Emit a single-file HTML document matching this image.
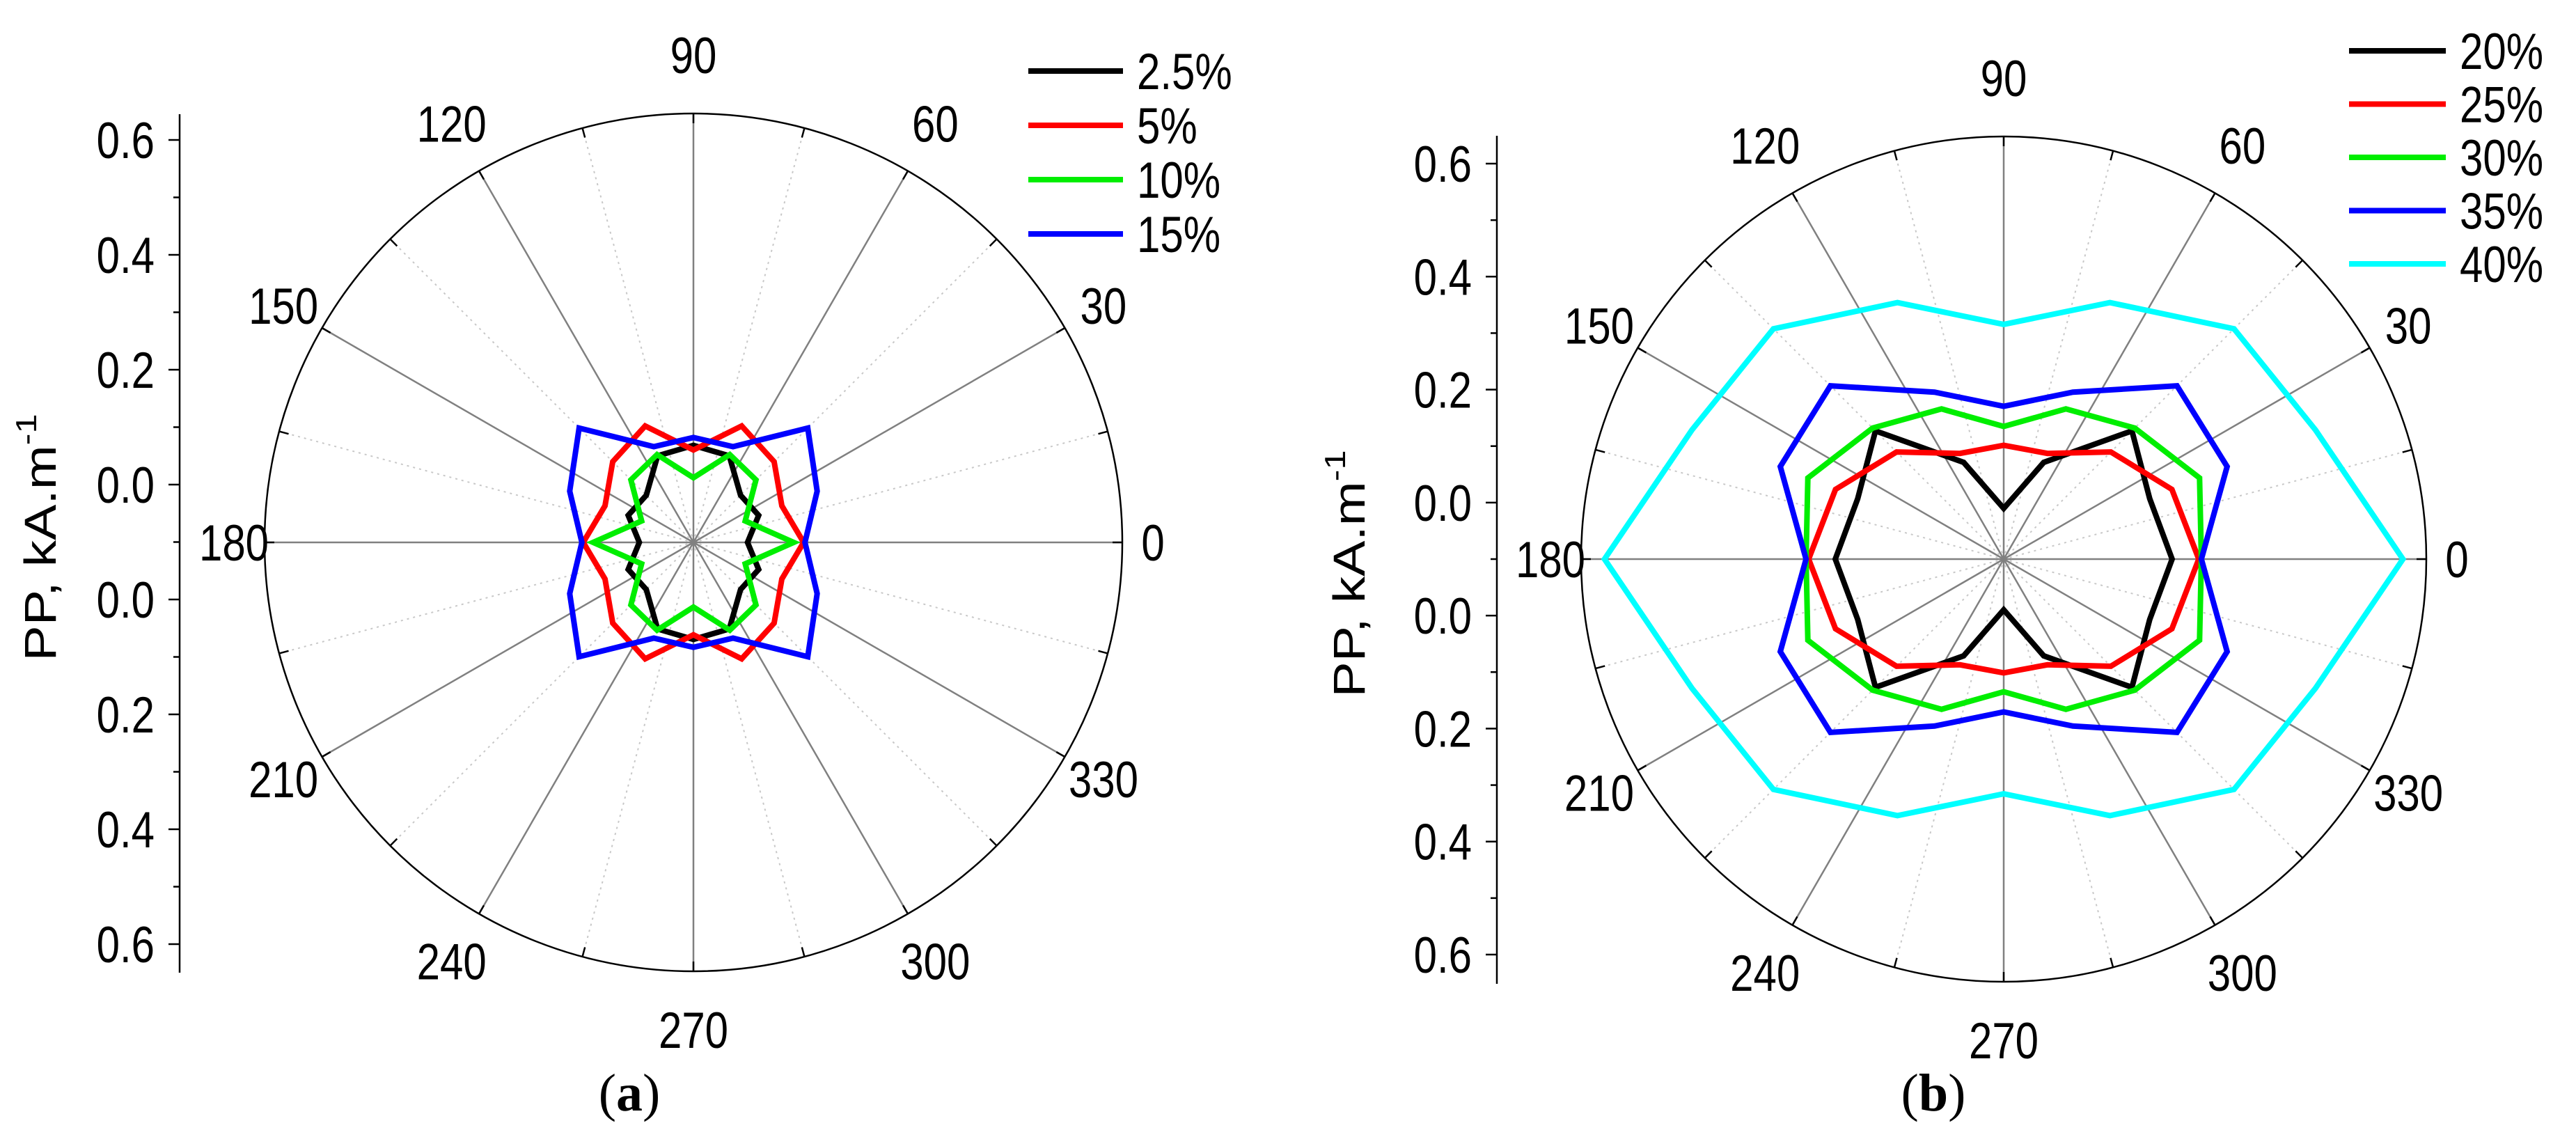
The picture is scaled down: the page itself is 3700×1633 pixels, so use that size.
<!DOCTYPE html>
<html><head><meta charset="utf-8"><style>
html,body{margin:0;padding:0;background:#fff;}
svg{display:block;font-family:"Liberation Sans",sans-serif;}
</style></head>
<body>
<svg id="fig" width="3700" height="1633" viewBox="0 0 3700 1633" xmlns="http://www.w3.org/2000/svg">
<rect width="3700" height="1633" fill="#fff"/>
<text x="904" y="1595" font-family="Liberation Serif" font-size="76" text-anchor="middle">(<tspan font-weight="bold">a</tspan>)</text>
<text x="2777" y="1595" font-family="Liberation Serif" font-size="76" text-anchor="middle">(<tspan font-weight="bold">b</tspan>)</text>
</svg>
<script>
const angles = [0,22.5,45,67.5,90,112.5,135,157.5,180,202.5,225,247.5,270,292.5,315,337.5];
const gridAngles = [0,30,60,90,120,150,180,210,240,270,300,330];
const axisLabels = ["0.6","0.4","0.2","0.0","0.0","0.2","0.4","0.6"];
const seriesA_names = ["2.5%","5%","10%","15%"];
const seriesA_colors = ["#000000","#ff0000","#00ee00","#0000ff"];
const a25 = [0.082,0.107,0.101,0.142,0.147,0.142,0.101,0.107,0.082,0.107,0.101,0.142,0.147,0.142,0.101,0.107];
const a5 = [0.167,0.145,0.173,0.191,0.140,0.191,0.173,0.145,0.167,0.145,0.173,0.191,0.140,0.191,0.173,0.145];
const a10 = [0.152,0.085,0.134,0.144,0.098,0.144,0.134,0.085,0.152,0.085,0.134,0.144,0.098,0.144,0.134,0.085];
const a15 = [0.169,0.203,0.245,0.157,0.159,0.157,0.245,0.203,0.169,0.203,0.245,0.157,0.159,0.157,0.245,0.203];
const seriesB_names = ["20%","25%","30%","35%","40%"];
const seriesB_colors = ["#000000","#ff0000","#00ee00","#0000ff","#00ffff"];
const b20 = [0.259,0.243,0.279,0.161,0.078,0.161,0.279,0.243,0.259,0.243,0.279,0.161,0.078,0.161,0.279,0.243];
const b25 = [0.300,0.280,0.233,0.176,0.175,0.176,0.233,0.280,0.300,0.280,0.233,0.176,0.175,0.176,0.233,0.280];
const b30 = [0.304,0.326,0.285,0.250,0.204,0.250,0.285,0.326,0.304,0.326,0.285,0.250,0.204,0.250,0.285,0.326];
const b35 = [0.304,0.372,0.377,0.278,0.235,0.278,0.377,0.372,0.304,0.372,0.377,0.278,0.235,0.278,0.377,0.372];
const b40 = [0.614,0.519,0.501,0.427,0.361,0.427,0.501,0.519,0.614,0.519,0.501,0.427,0.361,0.427,0.501,0.519];
const rMax = 0.65;

const NS="http://www.w3.org/2000/svg";
const svg=document.getElementById('fig');
function mk(tag,attrs,parent){const e=document.createElementNS(NS,tag);for(const k in attrs)e.setAttribute(k,attrs[k]);(parent||svg).appendChild(e);return e;}
function txt(x,y,s,anchor,parent){
  const t=mk('text',{x:0,y:0,'font-size':60,'text-anchor':anchor,transform:`translate(${x},${y}) scale(1,1.22)`},parent);
  t.textContent=s;return t;}

function drawChart(cfg,series,names,colors){
  const g=mk('g',{});
  
  
  const cx=cfg.cx,cy=cfg.cy,R=cfg.R;
  const rs=v=>v/rMax*R;
  const pt=(a,r)=>[cx+r*Math.cos(a*Math.PI/180),cy-r*Math.sin(a*Math.PI/180)];
  for(let a=15;a<360;a+=30){const p=pt(a,R);
    const l=mk('line',{x1:cx,y1:cy,x2:p[0],y2:p[1],stroke:'#c8c8c8','stroke-width':2,'stroke-dasharray':'3 6'},g);
    
    }
  for(const a of gridAngles){const p=pt(a,R);
    const l=mk('line',{x1:cx,y1:cy,x2:p[0],y2:p[1],stroke:'#808080','stroke-width':2.5},g);
    
    
    const q=pt(a,R+44+40*Math.abs(Math.sin(a*Math.PI/180)));
    const t=txt(q[0],q[1]+26,String(a),'middle',g);
    
    }
  for(let a=0;a<360;a+=15){const p1=pt(a,R),p2=pt(a,R-14);
    mk('line',{x1:p1[0],y1:p1[1],x2:p2[0],y2:p2[1],stroke:'#000','stroke-width':2.5},g);}
  const c=mk('circle',{cx:cx,cy:cy,r:R,fill:'none',stroke:'#000','stroke-width':2.5},g);
  
  
  series.forEach((vals,i)=>{
    const d=vals.map((v,j)=>{const p=pt(angles[j],rs(v));return (j?'L':'M')+p[0].toFixed(1)+' '+p[1].toFixed(1);}).join(' ')+' Z';
    const p=mk('path',{d:d,fill:'none',stroke:colors[i],'stroke-width':8,'stroke-linejoin':'miter'},g);
    
    
  });
  const ax=mk('line',{x1:cfg.axX,y1:cfg.axTop,x2:cfg.axX,y2:cfg.axBot,stroke:'#000','stroke-width':2.5},g);
  
  
  axisLabels.forEach((s,i)=>{const y=cfg.labY[0]+(cfg.labY[7]-cfg.labY[0])*i/7;
    mk('line',{x1:cfg.axX-16,y1:y,x2:cfg.axX,y2:y,stroke:'#000','stroke-width':2.5},g);
    if(i<7){const ym=y+(cfg.labY[7]-cfg.labY[0])/14;mk('line',{x1:cfg.axX-9,y1:ym,x2:cfg.axX,y2:ym,stroke:'#000','stroke-width':2.5},g);}
    const t=txt(cfg.axX-36,y+26,s,'end',g);
    
    });
  const yt=mk('text',{x:0,y:0,'font-size':64,'text-anchor':'middle',transform:`translate(${cfg.titleX},${cfg.titleY}) rotate(-90) scale(1.2,1)`},g);
  yt.innerHTML='PP, kA.m<tspan dy="-28" font-size="42">-1</tspan>';
  
  
  names.forEach((n,i)=>{const y=cfg.legY[0]+i*cfg.legStep;
    const lg=mk('g',{},g);
    
    
    mk('line',{x1:cfg.legX1,y1:y,x2:cfg.legX2,y2:y,stroke:colors[i],'stroke-width':8},lg);
    txt(cfg.legX2+20,y+26,n,'start',lg);});
}
drawChart({id:'polar-chart-a',cx:996,cy:779,R:616,axX:258,axTop:164,axBot:1397,labY:[201,367,532,697,861,1026,1192,1356],titleX:80,titleY:772,legX1:1477,legX2:1613,legY:[102],legStep:78},[a25,a5,a10,a15],seriesA_names,seriesA_colors);
drawChart({id:'polar-chart-b',cx:2878,cy:803,R:607,axX:2150,axTop:195,axBot:1413,labY:[235,397,560,723,884,1047,1210,1371],titleX:1960,titleY:824,legX1:3374,legX2:3513,legY:[73],legStep:76.5},[b20,b25,b30,b35,b40],seriesB_names,seriesB_colors);
</script>
</body></html>
